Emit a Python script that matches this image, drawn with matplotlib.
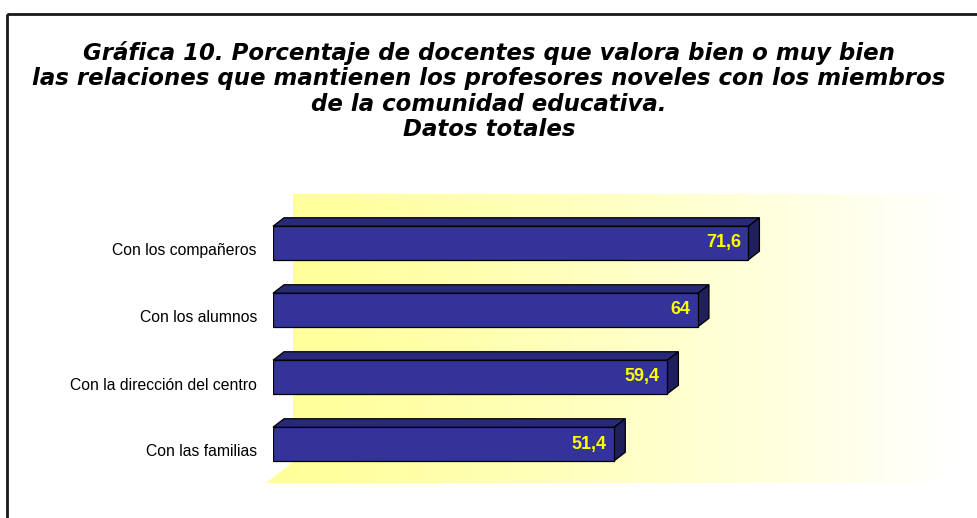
import numpy as np
import matplotlib
matplotlib.use("Agg")
import matplotlib.pyplot as plt
from matplotlib.patches import Polygon, Rectangle
from matplotlib.transforms import ScaledTranslation

# ---- data ----
categories = ["Con los compañeros", "Con los alumnos",
              "Con la dirección del centro", "Con las familias"]
values = [71.6, 64, 59.4, 51.4]
title_lines = ["Gráfica 10. Porcentaje de docentes que valora bien o muy bien",
               "las relaciones que mantienen los profesores noveles con los miembros",
               "de la comunidad educativa.",
               "Datos totales"]

W, H = 978, 518
DPI = 100
fig = plt.figure(figsize=(W / DPI, H / DPI), dpi=DPI)
fig.patch.set_facecolor("white")

def fx(px):
    return px / W

def fy(py):
    return 1 - py / H

# front plane axes
ax_left, ax_right = 273, 937
ax_top, ax_bot = 209.5, 477.5
ax = fig.add_axes([fx(ax_left), fy(ax_bot), (ax_right - ax_left) / W,
                   (ax_bot - ax_top) / H], zorder=2)
ax.set_facecolor("none")
ax.set_xlim(0, 100)
ax.set_ylim(3.5, -0.5)
ax.axis("off")

# background axes in pixel coordinates for wall/floor
bg = fig.add_axes([0, 0, 1, 1], zorder=1)
bg.set_xlim(0, W)
bg.set_ylim(H, 0)
bg.axis("off")

# depth offsets (pixels)
wall_dx, wall_dy = 20, 15.5
floor_dx, floor_dy = -7, -5.5
bar_dx, bar_dy = 11, 8.5

wall = Polygon([(ax_left + wall_dx, ax_top - wall_dy),
                (ax_right + wall_dx, ax_top - wall_dy),
                (ax_right + wall_dx, ax_bot - wall_dy),
                (ax_left + wall_dx, ax_bot - wall_dy)],
               closed=True, facecolor="none", edgecolor="none")
floor = Polygon([(ax_left + floor_dx, ax_bot - floor_dy),
                 (ax_left + wall_dx, ax_bot - wall_dy),
                 (ax_right + wall_dx, ax_bot - wall_dy),
                 (ax_right + floor_dx, ax_bot - floor_dy)],
                closed=True, facecolor="none", edgecolor="none")
bg.add_patch(wall)
bg.add_patch(floor)

grad = np.linspace(0, 1, 512) ** 1.25
img = np.zeros((2, 512, 3))
img[..., 0] = 1.0
img[..., 1] = 1.0
img[..., 2] = 0.6 + 0.4 * grad
x0g, x1g = ax_left + floor_dx, ax_right + wall_dx
for patch in (wall, floor):
    im = bg.imshow(img, extent=(x0g, x1g, ax_bot - floor_dy, ax_top - wall_dy),
                   aspect="auto", interpolation="bilinear", zorder=0)
    im.set_clip_path(patch)
bg.set_xlim(0, W)
bg.set_ylim(H, 0)

# border
bg.add_patch(Rectangle((7, 14), W + 20, H + 20, facecolor="none",
                       edgecolor="#1a1a1a", linewidth=2, zorder=5,
                       clip_on=False))

# bars
front_c = "#333399"
top_c = "#29297a"
side_c = "#1f1f5c"
bar_h = 0.5
ypos = np.arange(len(categories))
ax.barh(ypos, values, height=bar_h, color=front_c, edgecolor="black",
        linewidth=0.9, zorder=3)

fig.canvas.draw()
inv = bg.transData.inverted()

def to_px(x, y):
    d = ax.transData.transform((x, y))
    return inv.transform(d)

for y, v in zip(ypos, values):
    (lx, ty) = to_px(0, y - bar_h / 2)
    (rx, by) = to_px(v, y + bar_h / 2)
    top = Polygon([(lx, ty), (rx, ty), (rx + bar_dx, ty - bar_dy),
                   (lx + bar_dx, ty - bar_dy)], closed=True,
                  facecolor=top_c, edgecolor="black", linewidth=0.9, zorder=3)
    side = Polygon([(rx, ty), (rx + bar_dx, ty - bar_dy),
                    (rx + bar_dx, by - bar_dy), (rx, by)], closed=True,
                   facecolor=side_c, edgecolor="black", linewidth=0.9, zorder=3)
    bg.add_patch(top)
    bg.add_patch(side)

# category labels
lab_tr = ax.transData + ScaledTranslation(-16 / DPI, -8 / DPI, fig.dpi_scale_trans)
for y, c in zip(ypos, categories):
    ax.text(0, y, c, transform=lab_tr, ha="right", va="center",
            fontsize=11.3, family="Liberation Sans", color="black")

# value labels
val_tr = ax.transData + ScaledTranslation(-7.5 / DPI, 0, fig.dpi_scale_trans)
for y, v in zip(ypos, values):
    ax.text(v, y, f"{v:g}".replace(".", ","), transform=val_tr, ha="right",
            va="center", fontsize=13, fontweight="bold",
            family="Liberation Sans", color="#FFFF00", zorder=5)

# title
fig.text(fx(489), fy(91), "\n".join(title_lines), ha="center", va="center",
         fontsize=16.5, fontweight="bold", fontstyle="italic",
         family="DejaVu Sans", linespacing=1.12)

fig.savefig("out.png", dpi=DPI)
